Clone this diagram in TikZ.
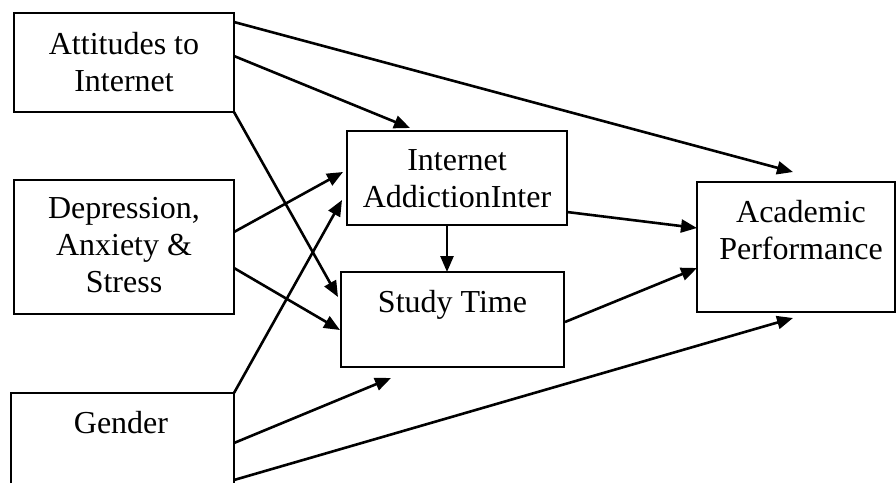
\documentclass[tikz,border=0pt]{standalone}
\usepackage{fontspec}
\setmainfont{Liberation Serif}
\usetikzlibrary{arrows.meta,calc}
\begin{document}
\begin{tikzpicture}[x=1pt,y=-1pt,
  box/.style={draw, line width=2.6pt, inner sep=0pt, outer sep=0pt},
  txt/.style={font=\fontsize{32}{37}\selectfont, align=center, inner sep=0pt, anchor=north},
  link/.style={line width=2.6pt, -{Triangle[length=16pt,width=13pt]}}]
\useasboundingbox (0,0) rectangle (896,483);
% boxes
\node[box, minimum width=220pt, minimum height=99pt] (att) at (124,62.5) {};
\node[box, minimum width=220pt, minimum height=134pt] (dep) at (124,247) {};
\node[inner sep=0pt, outer sep=0pt, minimum width=223pt, minimum height=90pt] (gen) at (122.5,438) {};
\draw[line width=2.6pt] (gen.south west) -- (gen.north west) -- (gen.north east) -- (gen.south east);
\node[box, minimum width=220pt, minimum height=94pt] (ia) at (457,178) {};
\node[box, minimum width=223pt, minimum height=95pt] (st) at (452.5,319.5) {};
\node[box, minimum width=198pt, minimum height=130pt] (ap) at (796,247) {};
% texts
\node[txt] (attT) at (124,30) {\rule{0pt}{24pt}Attitudes to\\Internet};
\node[txt] (depT) at (124,194) {\rule{0pt}{24pt}Depression,\\Anxiety \&\\Stress};
\node[txt] (genT) at (121,409) {\rule{0pt}{24pt}Gender};
\node[txt] (iaT) at (457,146) {\rule{0pt}{24pt}Internet\\AddictionInter};
\node[txt] (stT) at (452.5,288) {\rule{0pt}{24pt}Study Time};
\node[txt] (apT) at (801,198) {\rule{0pt}{24pt}Academic\\Performance};
% connectors
\draw[link] ($(att.north east)+(0,9)$) -- ($(ap.north)+(-3,-10)$);
\draw[link] ($(att.north east)+(0,43)$) -- ($(ia.north)+(-47,-3)$);
\draw[link] (att.south east) -- ($(st.west)+(-3,-22.5)$);
\draw[link] ($(dep.east)+(0,-15)$) -- ($(ia.west)+(-4,-6)$);
\draw[link] ($(dep.east)+(0,21)$) -- ($(st.west)+(-1,10.5)$);
\draw[link] (gen.north east) -- ($(ia.west)+(-5,22)$);
\draw[link] ($(gen.north east)+(0,50)$) -- ($(st.south)+(-61.5,11)$);
\draw[link] ($(gen.north east)+(0,87)$) -- ($(ap.south)+(-3,6)$);
\draw[link] ($(ia.east)+(0,34)$) -- ($(ap.west)+(0,-19)$);
\draw[link] ($(st.east)+(1,2.5)$) -- ($(ap.west)+(0,21)$);
\draw[link] ($(ia.south)+(-10,0)$) -- ($(st.north)+(-5.5,0)$);
\end{tikzpicture}
\end{document}
